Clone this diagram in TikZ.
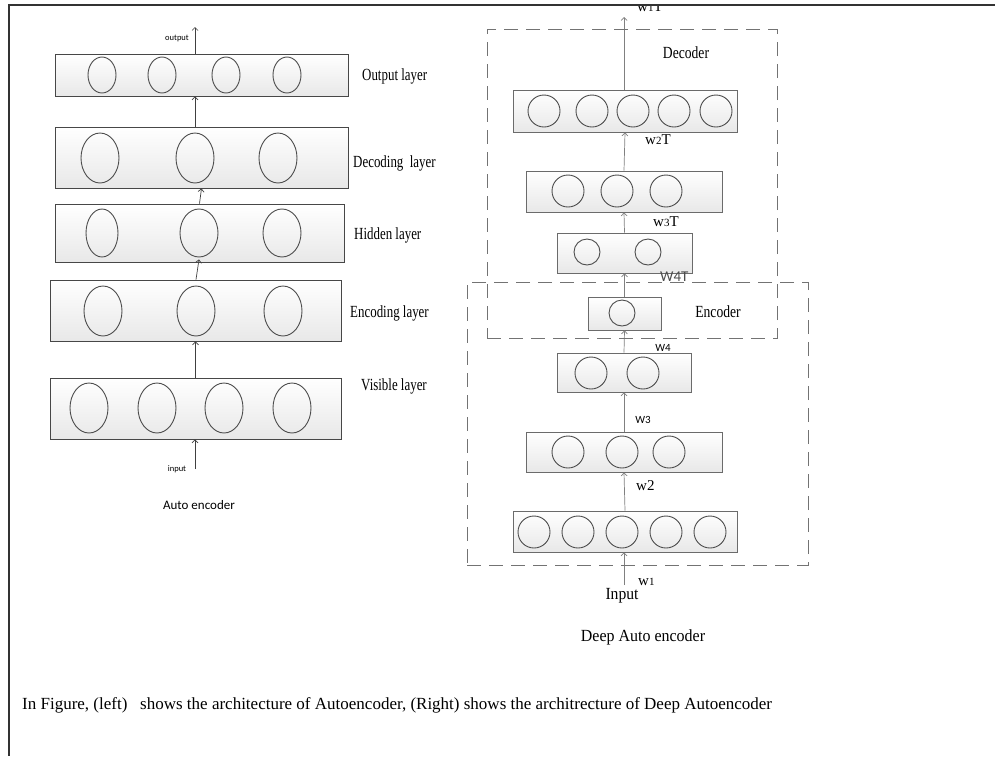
\documentclass[tikz,border=0pt]{standalone}
\usepackage{fontspec}
\setmainfont{Liberation Serif}
\newfontfamily\carlito{Carlito}
\usepackage{graphicx}
\usetikzlibrary{fit,shadows,arrows.meta}
\newcommand{\nar}[2]{\scalebox{#1}[1]{#2}}
\begin{document}
\begin{tikzpicture}[x=1pt,y=-1pt,
  frameline/.style={draw=black!80, line width=1.3pt},
  layer/.style={draw=black!72, line width=0.8pt, top color=white, bottom color=black!9, inner sep=0pt,
     drop shadow={shadow xshift=1pt, shadow yshift=-1pt, fill=black!40, opacity=1}},
  rlayer/.style={layer, draw=black!58},
  neuron/.style={draw=black!70, line width=0.9pt},
  arr/.style={draw=black!75, line width=0.7pt, -{Straight Barb[length=3pt,width=6pt]}},
  rarr/.style={arr, draw=black!50},
  grp/.style={draw=black!55, line width=0.9pt, dash pattern=on 14pt off 8pt, inner sep=0pt},
  lbl/.style={font=\fontsize{17}{20}\selectfont, inner sep=0pt},
  wlbl/.style={font=\fontsize{15}{18}\selectfont, inner sep=0pt},
  slbl/.style={font=\carlito\fontsize{8.5}{10}\selectfont, inner sep=0pt}
]
\useasboundingbox (0,0) rectangle (995,756);

% ---------------- left: Auto encoder ----------------
\node[layer, fit={(55,54) (348,96)}] (out) {};
\node[layer, fit={(55,127) (348,188)}] (dec) {};
\node[layer, fit={(55,204) (344,262)}] (hid) {};
\node[layer, fit={(50,280) (341,341)}] (enc) {};
\node[layer, fit={(50,378) (341,439)}] (vis) {};

\foreach \x in {102,162,226,287} \draw[neuron] (\x,75) ellipse [x radius=14, y radius=18];
\foreach \x in {100,195,278} \draw[neuron] (\x,158) ellipse [x radius=19, y radius=25];
\draw[neuron] (102,233) ellipse [x radius=16, y radius=24];
\foreach \x in {199,282} \draw[neuron] (\x,233) ellipse [x radius=19, y radius=24];
\foreach \x in {103,196,283} \draw[neuron] (\x,311) ellipse [x radius=19, y radius=25];
\foreach \x in {89,157,224,292} \draw[neuron] (\x,408) ellipse [x radius=19, y radius=25];

\coordinate (outtip) at (195,27);
\coordinate (intail) at (195,469);
\draw[arr] (outtip |- out.north) -- (outtip);
\draw[arr] ([xshift=-6.5pt]dec.north) -- ([xshift=-6.5pt]out.south);
\draw[arr] (hid.north) -- (dec.south);
\draw[arr] ([xshift=0.5pt]enc.north) -- ([xshift=-0.5pt,yshift=3pt]hid.south);
\draw[arr] (vis.north) -- (enc.south);
\draw[arr] (intail) -- (intail |- vis.south);

\node[slbl] (outl) at (177,38) {output};
\node[slbl] (inl) at (177,469) {input};
\node[lbl, anchor=west] (lo) at (362,76) {\nar{0.76}{Output layer}};
\node[lbl, anchor=west] (ld) at (353,163) {\nar{0.76}{Decoding\ \ layer}};
\node[lbl, anchor=west] (lh) at (354,235) {\nar{0.76}{Hidden layer}};
\node[lbl, anchor=west] (le) at (350,313) {\nar{0.76}{Encoding layer}};
\node[lbl, anchor=west] (lv) at (361,386) {\nar{0.76}{Visible layer}};
\node[font=\carlito\fontsize{13}{15}\selectfont, inner sep=0pt] (ae) at (199,505) {Auto encoder};

% ---------------- right: Deep Auto encoder ----------------
\node[rlayer, fit={(513,90) (737,132)}] (r1) {};
\node[rlayer, fit={(526,171) (722,212)}] (r2) {};
\node[rlayer, fit={(557,233) (692,273)}] (r3) {};
\node[rlayer, fit={(588,297) (661,330)}] (r4) {};
\node[rlayer, fit={(557,353) (691,392)}] (r5) {};
\node[rlayer, fit={(526,432) (722,472)}] (r6) {};
\node[rlayer, fit={(513,511) (737,552)}] (r7) {};

\foreach \x in {544,592,633,674,716} \draw[neuron] (\x,111) circle [radius=16];
\foreach \x in {568,617,666} \draw[neuron] (\x,191) circle [radius=16];
\foreach \x in {587,648} \draw[neuron] (\x,252) circle [radius=13];
\draw[neuron] (622,313) circle [radius=13];
\foreach \x in {591,643} \draw[neuron] (\x,373) circle [radius=16];
\foreach \x in {568,622,669} \draw[neuron] (\x,452) circle [radius=16];
\foreach \x in {534,578,622,666,710} \draw[neuron] (\x,532) circle [radius=16];

\coordinate (toptip) at (624,17);
\coordinate (bottail) at (624,585);
\draw[rarr] (toptip |- r1.north) -- (toptip);
\draw[rarr] (r2.north) -- (r1.south);
\draw[rarr] (r3.north) -- (r2.south);
\draw[rarr] (r4.north) -- (r3.south);
\draw[rarr] (r5.north) -- (r4.south);
\draw[rarr] (r6.north) -- (r5.south);
\draw[rarr] (r7.north) -- (r6.south);
\draw[rarr] (bottail) -- (bottail |- r7.south);

\begin{scope}
  \clip (0,5) rectangle (995,756);
  \node[wlbl, anchor=base west] (w1t) at (637,11) {w{\fontsize{11}{12}\selectfont 1}T};
\end{scope}
\node[lbl] (decl) at (686,53) {\nar{0.8}{Decoder}};
\node[lbl] (encl) at (718,312) {\nar{0.8}{Encoder}};
\node[wlbl, anchor=west] (w2t) at (645,140) {w{\fontsize{11}{12}\selectfont 2}T};
\node[wlbl, anchor=west] (w3t) at (653,222) {w{\fontsize{11}{12}\selectfont 3}T};
\node[font=\carlito\fontsize{15}{17}\selectfont, inner sep=0pt, anchor=west, text=black!70] (w4t) at (660,277) {W4T};
\node[font=\carlito\fontsize{11}{13}\selectfont, inner sep=0pt] (w4) at (663,348) {W4};
\node[font=\carlito\fontsize{11}{13}\selectfont, inner sep=0pt] (w3) at (643,420) {W3};
\node[wlbl, anchor=west] (w2) at (636,486) {w2};
\node[wlbl, anchor=west] (w1) at (638,582) {w{\fontsize{11}{12}\selectfont 1}};
\node[lbl] (inp) at (622,596) {\nar{0.92}{Input}};
\node[lbl] (dae) at (643,637) {\nar{0.94}{Deep Auto encoder}};

\node[grp, fit={(487,29) (777,338)}] (decbox) {};
\node[grp, fit={(467,282) (808,565)}] (encbox) {};

% ---------------- caption and frame ----------------
\node[lbl, anchor=west] (cap) at (22,705) {In Figure, (left)\ \ \ shows the architecture of Autoencoder, (Right) shows the architrecture of Deep Autoencoder};

\draw[frameline] (995,5) -- (9,5) -- (9,756);
\end{tikzpicture}
\end{document}
